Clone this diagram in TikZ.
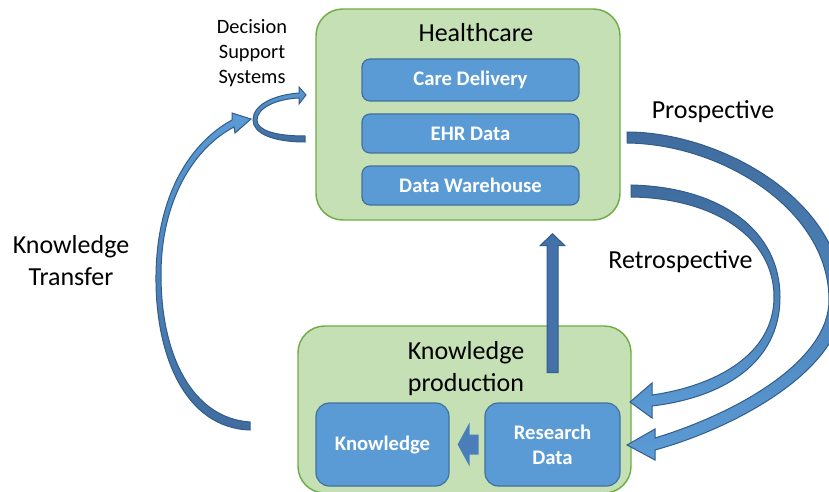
\documentclass[tikz,border=0pt]{standalone}
\usepackage{fontspec}
\setmainfont{Carlito}
\usepackage{tikz}
\usetikzlibrary{calc}

\definecolor{grnfill}{RGB}{197,224,180}
\definecolor{grnedge}{RGB}{112,173,71}
\definecolor{bluefill}{RGB}{91,155,213}
\definecolor{bluedge}{RGB}{65,113,156}
\definecolor{arrowdark}{RGB}{64,108,158}
\definecolor{arrowlight}{RGB}{91,155,213}
\definecolor{arrowedge}{RGB}{50,92,138}
\definecolor{upfill}{RGB}{68,114,168}
\definecolor{leftfill}{RGB}{74,126,187}

\begin{document}
\begin{tikzpicture}[x=0.75pt,y=0.75pt,yscale=-1,xscale=1,
  group/.style={draw=grnedge, fill=grnfill, line width=1.1pt, rounded corners=20pt, inner sep=0pt},
  item/.style={draw=bluedge, fill=bluefill, line width=0.9pt, rounded corners=6pt, text=white, align=center, inner sep=0pt,
    font=\fontsize{15.5}{18.75}\selectfont\bfseries},
  lbl/.style={inner sep=0.75pt, align=center, font=\fontsize{19.5}{24}\selectfont},
  flowdown/.style={draw=arrowedge, line width=0.75pt, top color=arrowdark, bottom color=arrowlight},
  flowup/.style={draw=arrowedge, line width=0.75pt, top color=arrowlight, bottom color=arrowdark}]

\useasboundingbox (0,0) rectangle (829,492);
\clip (0,0) rectangle (829,492);

%Shape: Rounded Rect
\draw (468,114.5) node [group, minimum width=228pt, minimum height=158.25pt] (hc) {};
%Shape: Rounded Rect
\draw (464.5,409.5) node [group, minimum width=249.75pt, minimum height=125.25pt] (kp) {};

% Text Node
\draw (476,33) node [lbl] (hctitle) {Healthcare};
% Text Node
\draw (466,369) node [lbl] (kptitle) {Knowledge\\production};

%Shape: Rounded Rect
\draw (470.5,80) node [item, minimum width=162.75pt, minimum height=31.5pt] (care) {Care Delivery};
%Shape: Rounded Rect
\draw (470.5,133.5) node [item, minimum width=162.75pt, minimum height=29.25pt] (ehr) {EHR Data};
%Shape: Rounded Rect
\draw (470.5,185.5) node [item, minimum width=162.75pt, minimum height=29.25pt] (dw) {Data Warehouse};
%Shape: Rounded Rect
\draw (382.5,444.5) node [item, rounded corners=10pt, minimum width=99.75pt, minimum height=62.25pt] (know) {Knowledge};
%Shape: Rounded Rect
\draw (552.5,444.5) node [item, rounded corners=10pt, minimum width=101.25pt, minimum height=62.25pt] (rd) {Research\\Data};

% Text Node
\draw (252,53) node [lbl, font=\fontsize{15.3}{18.75}\selectfont] (dss) {Decision\\Support\\Systems};
% Text Node
\draw (713,112) node [lbl] (prosp) {Prospective};
% Text Node
\draw (680.5,262) node [lbl] (retro) {Retrospective};
% Text Node
\draw (71,261) node [lbl] (ktrans) {Knowledge\\Transfer};

%Block Arrow: research data up to healthcare
\coordinate (vtip) at ($(rd.north |- hc.south)+(0,13)$);
\draw [draw=arrowedge, line width=0.75pt, fill=upfill] (vtip) -- ++(12.5,12) -- ++(-7,0) -- ++(0,127) -- ++(-11,0) -- ++(0,-127) -- ++(-7,0) -- cycle;

%Block Arrow: research data to knowledge
\coordinate (stip) at ($(know.east)+(8,0)$);
\draw [draw=none, fill=leftfill] (stip) -- ++(12,-22) -- ++(0,12) -- ++(9,0) -- ++(0,20) -- ++(-9,0) -- ++(0,12) -- cycle;

%Curved Arrow: prospective
\coordinate (pstart) at (627,132);
\coordinate (ptip) at (627,445);
\draw [flowdown] (pstart) .. controls (720,132) and (843,200) .. (843,300) .. controls (843,370) and (735,428) .. (655,450)
  -- (655,460) -- (ptip) -- (655,429) -- (655,438)
  .. controls (740,412) and (829,360) .. (829,300) .. controls (829,210) and (722,144) .. (627,143) -- cycle;

%Curved Arrow: retrospective
\coordinate (rstart) at (631,185);
\coordinate (rtip) at (630,402);
\draw [flowdown] (rstart) .. controls (720,187) and (780,230) .. (780,297) .. controls (780,365) and (720,398) .. (652,406)
  -- (652,418) -- (rtip) -- (652,383) -- (652,395)
  .. controls (715,386) and (774,355) .. (774,297) .. controls (774,238) and (715,198) .. (631,197) -- cycle;

%Curved Arrow: knowledge transfer
\coordinate (kstart) at (250,430);
\coordinate (ktip) at (251,119);
\draw [flowup] (kstart) .. controls (185,428) and (155,355) .. (156,275) .. controls (157,195) and (190,143) .. (232,120)
  -- (232,113) -- (ktip) -- (235,133) -- (234,127)
  .. controls (194,148) and (161,200) .. (161,275) .. controls (161,355) and (192,418) .. (250,422) -- cycle;

%Curved Arrow: decision support loop
\coordinate (dstart) at (305,142);
\coordinate (dtip) at (306,95);
\draw [flowup] (dstart) .. controls (272,142) and (253,133) .. (253,120) .. controls (253,105) and (273,95) .. (299,93)
  -- (299,87) -- (dtip) -- (299,104) -- (299,98)
  .. controls (276,99) and (257,108) .. (257,120) .. controls (257,130) and (274,136) .. (305,136) -- cycle;

\end{tikzpicture}
\end{document}
